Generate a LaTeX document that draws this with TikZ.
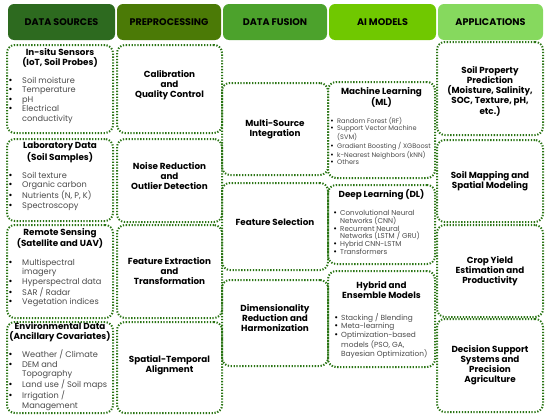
\documentclass[tikz,border=0pt]{standalone}
\usepackage{fontspec}
\setmainfont{Poppins}
\newfontfamily\bulfont{DejaVu Sans}
\usetikzlibrary{positioning,fit}
\definecolor{hdsrc}{HTML}{2D6A1F}
\definecolor{hdpre}{HTML}{4B7A06}
\definecolor{hdfus}{HTML}{4CA22C}
\definecolor{hdai}{HTML}{70C800}
\definecolor{hdapp}{HTML}{86D95E}
\definecolor{dotgreen}{HTML}{2A7414}
\definecolor{itemgray}{HTML}{4A4A4A}
\newcommand\bul[1][14pt]{\makebox[#1][l]{\textcolor{black}{\bulfont •}}}
\newcommand\cnt[1][14pt]{\hspace*{#1}}
\begin{document}
\begin{tikzpicture}[x=1pt,y=-1pt,
    header/.style={rounded corners=6pt, minimum height=36pt, inner sep=0pt},
    hdtext/.style={font=\bfseries\fontsize{9.6}{11}\selectfont, text=black},
    dotbox/.style={draw=dotgreen, line width=2pt, dash pattern=on 1.3pt off 1.6pt,
        rounded corners=8pt, inner sep=0pt},
    title/.style={font=\bfseries\fontsize{8.8}{10}\selectfont, align=center, inner sep=0pt},
    items/.style={font=\fontsize{8.2}{9.5}\selectfont, text=itemgray, align=left, inner sep=0pt},
    mlitems/.style={font=\fontsize{6.6}{7}\selectfont, text=itemgray, align=left, inner sep=0pt},
    dlitems/.style={font=\fontsize{7.1}{7.7}\selectfont, text=itemgray, align=left, inner sep=0pt},
    hyitems/.style={font=\fontsize{7.4}{7.6}\selectfont, text=itemgray, align=left, inner sep=0pt}]
    \useasboundingbox (0,0) rectangle (550,418);
    \foreach \a/\b/\c/\t [count=\i] in {8/115/hdsrc/DATA SOURCES, 117/221/hdpre/PREPROCESSING,
            223/327/hdfus/DATA FUSION, 329/436/hdai/AI MODELS, 438/543/hdapp/APPLICATIONS}
        \node[header, fill=\c, fit={(\a,4) (\b,40)}, label={[hdtext]center:\t}] (h\i) {};
    \foreach \n/\a/\b/\c/\d in {insitu/7/45/113/133, lab/7/139/113/221, remote/7/225/113/318, env/7/322/113/413,
            calib/117/45/222/133, noise/117/139/222/222, featx/117/225/222/318, spatial/117/322/222/413,
            multi/222/83/328/175, fsel/222/183/328/270, dimred/222/280/328/366,
            ml/328/82/435/178, dl/328/185/435/264, hybrid/328/271/435/367,
            soilprop/437/42/543/135, mapping/437/140/543/222, crop/437/225/543/317, dss/437/319/543/412}
        \node[dotbox, fit={(\a,\b) (\c,\d)}] (\n) {};
    \node[title, below=4pt of insitu.north] (insitut) {In-situ Sensors\\(IoT, Soil Probes)};
    \node[items, anchor=north west] (insitul) at (8,77) {\bul Soil moisture\\ \bul Temperature\\ \bul pH\\ \bul Electrical\\ \cnt conductivity};
    \node[title, below=4pt of lab.north] (labt) {Laboratory Data\\(Soil Samples)};
    \node[items, anchor=north west] (labl) at (8,172) {\bul Soil texture\\ \bul Organic carbon\\ \bul Nutrients (N, P, K)\\ \bul Spectroscopy};
    \node[title, below=4pt of remote.north] (remotet) {Remote Sensing\\(Satellite and UAV)};
    \node[items, anchor=north west] (remotel) at (8,259) {\bul Multispectral\\ \cnt imagery\\ \bul Hyperspectral data\\ \bul SAR / Radar\\ \bul Vegetation indices};
    \node[title, below=1pt of env.north] (envt) {Environmental Data\\(Ancillary Covariates)};
    \node[items, anchor=north west] (envl) at (8,350) {\bul Weather / Climate\\ \bul DEM and\\ \cnt Topography\\ \bul Land use / Soil maps\\ \bul Irrigation /\\ \cnt Management};
    \node[title] (calibt) at ([yshift=4pt]calib.center) {Calibration\\and\\Quality Control};
    \node[title] (noiset) at ([yshift=4pt]noise.center) {Noise Reduction\\and\\Outlier Detection};
    \node[title] (featxt) at (featx.center) {Feature Extraction\\and\\Transformation};
    \node[title] (spatialt) at ([yshift=2pt]spatial.center) {Spatial-Temporal\\Alignment};
    \node[title] (multit) at (multi.center) {Multi-Source\\Integration};
    \node[title] (fselt) at ([yshift=4pt]fsel.center) {Feature Selection};
    \node[title] (dimredt) at ([yshift=5pt]dimred.center) {Dimensionality\\Reduction and\\Harmonization};
    \node[title, below=6pt of ml.north] (mlt) {Machine Learning\\(ML)};
    \node[mlitems, anchor=north west] (mll) at (330,117.5) {\bul[7pt]Random Forest (RF)\\ \bul[7pt]Support Vector Machine\\ \cnt[7pt](SVM)\\ \bul[7pt]Gradient Boosting / XGBoost\\ \bul[7pt]k-Nearest Neighbors (kNN)\\ \bul[7pt]Others};
    \node[title, below=5pt of dl.north] (dlt) {Deep Learning (DL)};
    \node[dlitems, anchor=north west] (dll) at (333,210) {\bul[7pt]Convolutional Neural\\ \cnt[7pt]Networks (CNN)\\ \bul[7pt]Recurrent Neural\\ \cnt[7pt]Networks (LSTM / GRU)\\ \bul[7pt]Hybrid CNN-LSTM\\ \bul[7pt]Transformers};
    \node[title, below=11pt of hybrid.north] (hybridt) {Hybrid and\\Ensemble Models};
    \node[hyitems, anchor=north west] (hybridl) at (334,313) {\bul[7pt]Stacking / Blending\\ \bul[7pt]Meta-learning\\ \bul[7pt]Optimization-based\\ \cnt[7pt]models (PSO, GA,\\ \cnt[7pt]Bayesian Optimization)};
    \node[title] (soilpropt) at ([yshift=-3pt]soilprop.center) {Soil Property\\Prediction\\(Moisture, Salinity,\\SOC, Texture, pH,\\etc.)};
    \node[title] (mappingt) at (mapping.center) {Soil Mapping and\\Spatial Modeling};
    \node[title] (cropt) at (crop.center) {Crop Yield\\Estimation and\\Productivity};
    \node[title] (dsst) at (dss.center) {Decision Support\\Systems and\\Precision\\Agriculture};
\end{tikzpicture}
\end{document}
